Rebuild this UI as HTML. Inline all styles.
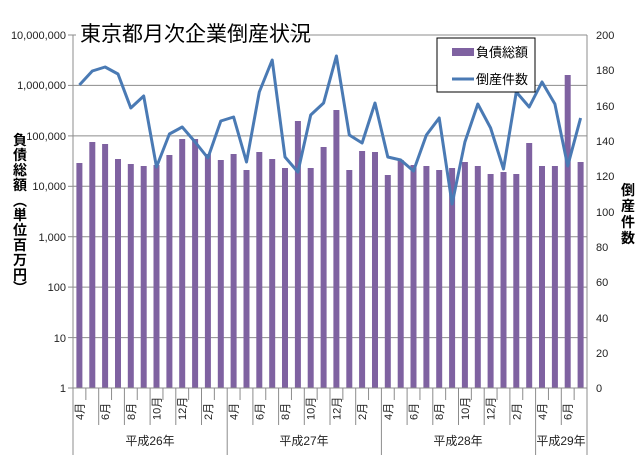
<!DOCTYPE html>
<html><head><meta charset="utf-8"><style>
html,body{margin:0;padding:0;background:#fff}
svg{display:block}
text{font-family:"Liberation Sans","Noto Sans CJK JP",sans-serif}
</style></head><body>
<svg width="640" height="459" viewBox="0 0 640 459" xmlns="http://www.w3.org/2000/svg">
<rect width="640" height="459" fill="#fff"/>
<g stroke="#8c8c8c" stroke-width="1">
<line x1="73" y1="35" x2="587" y2="35"/>
<line x1="73" y1="85.4" x2="587" y2="85.4"/>
<line x1="73" y1="135.9" x2="587" y2="135.9"/>
<line x1="73" y1="186.3" x2="587" y2="186.3"/>
<line x1="73" y1="236.7" x2="587" y2="236.7"/>
<line x1="73" y1="287.1" x2="587" y2="287.1"/>
<line x1="73" y1="337.6" x2="587" y2="337.6"/>
<line x1="73" y1="35" x2="73" y2="388"/>
<line x1="587" y1="35" x2="587" y2="388"/>
<line x1="68" y1="35" x2="73" y2="35"/><line x1="68" y1="85.4" x2="73" y2="85.4"/><line x1="68" y1="135.9" x2="73" y2="135.9"/><line x1="68" y1="186.3" x2="73" y2="186.3"/><line x1="68" y1="236.7" x2="73" y2="236.7"/><line x1="68" y1="287.1" x2="73" y2="287.1"/><line x1="68" y1="337.6" x2="73" y2="337.6"/><line x1="68" y1="388" x2="73" y2="388"/>
</g>
<rect x="76" y="20" width="214" height="26" fill="#fff"/>
<text x="80" y="41" font-size="21" fill="#000">東京都月次企業倒産状況</text>
<g font-size="11" fill="#222" text-anchor="end">
<text x="66" y="39">10,000,000</text><text x="66" y="89">1,000,000</text><text x="66" y="140">100,000</text><text x="66" y="190">10,000</text><text x="66" y="241">1,000</text><text x="66" y="291">100</text><text x="66" y="342">10</text><text x="66" y="392">1</text>
</g>
<g font-size="11" fill="#222">
<text x="596" y="39">200</text><text x="596" y="74">180</text><text x="596" y="110">160</text><text x="596" y="145">140</text><text x="596" y="180">120</text><text x="596" y="216">100</text><text x="596" y="251">80</text><text x="596" y="286">60</text><text x="596" y="322">40</text><text x="596" y="357">20</text><text x="596" y="392">0</text>
</g>
<g font-size="14" fill="#000" font-weight="bold" text-anchor="middle">
<text x="20" y="145">負</text><text x="20" y="160">債</text><text x="20" y="175">総</text><text x="20" y="190">額</text><text x="20" y="206">︵</text><text x="20" y="220">単</text><text x="20" y="235">位</text><text x="20" y="250">百</text><text x="20" y="265">万</text><text x="20" y="280">円</text><text x="20" y="293">︶</text>
<text x="628" y="195">倒</text><text x="628" y="211">産</text><text x="628" y="227">件</text><text x="628" y="243">数</text>
</g>
<g fill="#7f62a1">
<rect x="76.4" y="163" width="6" height="225"/>
<rect x="89.3" y="142" width="6" height="246"/>
<rect x="102.1" y="144" width="6" height="244"/>
<rect x="115.0" y="159" width="6" height="229"/>
<rect x="127.8" y="164" width="6" height="224"/>
<rect x="140.7" y="166" width="6" height="222"/>
<rect x="153.5" y="165" width="6" height="223"/>
<rect x="166.4" y="155" width="6" height="233"/>
<rect x="179.2" y="139" width="6" height="249"/>
<rect x="192.1" y="139" width="6" height="249"/>
<rect x="204.9" y="154" width="6" height="234"/>
<rect x="217.8" y="160" width="6" height="228"/>
<rect x="230.6" y="154" width="6" height="234"/>
<rect x="243.5" y="170" width="6" height="218"/>
<rect x="256.3" y="152" width="6" height="236"/>
<rect x="269.2" y="159" width="6" height="229"/>
<rect x="282.0" y="168" width="6" height="220"/>
<rect x="294.9" y="121" width="6" height="267"/>
<rect x="307.7" y="168" width="6" height="220"/>
<rect x="320.6" y="147" width="6" height="241"/>
<rect x="333.4" y="110" width="6" height="278"/>
<rect x="346.3" y="170" width="6" height="218"/>
<rect x="359.1" y="151" width="6" height="237"/>
<rect x="372.0" y="152" width="6" height="236"/>
<rect x="384.8" y="175" width="6" height="213"/>
<rect x="397.7" y="160" width="6" height="228"/>
<rect x="410.5" y="165" width="6" height="223"/>
<rect x="423.4" y="166" width="6" height="222"/>
<rect x="436.2" y="170" width="6" height="218"/>
<rect x="449.1" y="168" width="6" height="220"/>
<rect x="461.9" y="162" width="6" height="226"/>
<rect x="474.8" y="166" width="6" height="222"/>
<rect x="487.6" y="174" width="6" height="214"/>
<rect x="500.5" y="172" width="6" height="216"/>
<rect x="513.3" y="174" width="6" height="214"/>
<rect x="526.2" y="143" width="6" height="245"/>
<rect x="539.0" y="166" width="6" height="222"/>
<rect x="551.9" y="166" width="6" height="222"/>
<rect x="564.7" y="75" width="6" height="313"/>
<rect x="577.6" y="162" width="6" height="226"/>
</g>
<polyline fill="none" stroke="#4a7ab4" stroke-width="3" stroke-linejoin="round" points="79.4,85 92.3,71 105.1,67 118.0,74 130.8,108 143.7,96 156.5,167 169.4,134 182.2,127 195.1,142 207.9,158 220.8,121 233.6,117 246.5,162 259.3,92 272.2,60 285.0,157 297.9,172 310.7,115 323.6,103 336.4,56 349.3,135 362.1,143 375.0,103 387.8,157 400.7,160 413.5,171 426.4,135 439.2,118 452.1,204 464.9,142 477.8,104 490.6,128 503.5,169 516.3,92 529.2,107 542.0,82 554.9,104 567.7,166 580.6,118"/>
<g stroke="#8c8c8c" stroke-width="1">
<line x1="73" y1="388" x2="587" y2="388"/>
<line x1="73" y1="388" x2="73" y2="455"/>
<line x1="85.85" y1="388" x2="85.85" y2="400"/><line x1="98.7" y1="388" x2="98.7" y2="425"/><line x1="111.55" y1="388" x2="111.55" y2="400"/><line x1="124.4" y1="388" x2="124.4" y2="425"/><line x1="137.25" y1="388" x2="137.25" y2="400"/><line x1="150.1" y1="388" x2="150.1" y2="425"/><line x1="162.95" y1="388" x2="162.95" y2="400"/><line x1="175.8" y1="388" x2="175.8" y2="425"/><line x1="188.65" y1="388" x2="188.65" y2="400"/><line x1="201.5" y1="388" x2="201.5" y2="425"/><line x1="214.35" y1="388" x2="214.35" y2="400"/>
<line x1="227.2" y1="388" x2="227.2" y2="455"/>
<line x1="240.05" y1="388" x2="240.05" y2="400"/><line x1="252.9" y1="388" x2="252.9" y2="425"/><line x1="265.75" y1="388" x2="265.75" y2="400"/><line x1="278.6" y1="388" x2="278.6" y2="425"/><line x1="291.45" y1="388" x2="291.45" y2="400"/><line x1="304.3" y1="388" x2="304.3" y2="425"/><line x1="317.15" y1="388" x2="317.15" y2="400"/><line x1="330" y1="388" x2="330" y2="425"/><line x1="342.85" y1="388" x2="342.85" y2="400"/><line x1="355.7" y1="388" x2="355.7" y2="425"/><line x1="368.55" y1="388" x2="368.55" y2="400"/>
<line x1="381.4" y1="388" x2="381.4" y2="455"/>
<line x1="394.25" y1="388" x2="394.25" y2="400"/><line x1="407.1" y1="388" x2="407.1" y2="425"/><line x1="419.95" y1="388" x2="419.95" y2="400"/><line x1="432.8" y1="388" x2="432.8" y2="425"/><line x1="445.65" y1="388" x2="445.65" y2="400"/><line x1="458.5" y1="388" x2="458.5" y2="425"/><line x1="471.35" y1="388" x2="471.35" y2="400"/><line x1="484.2" y1="388" x2="484.2" y2="425"/><line x1="497.05" y1="388" x2="497.05" y2="400"/><line x1="509.9" y1="388" x2="509.9" y2="425"/><line x1="522.75" y1="388" x2="522.75" y2="400"/>
<line x1="535.6" y1="388" x2="535.6" y2="455"/>
<line x1="548.45" y1="388" x2="548.45" y2="400"/><line x1="561.3" y1="388" x2="561.3" y2="425"/><line x1="574.15" y1="388" x2="574.15" y2="400"/>
<line x1="587" y1="388" x2="587" y2="455"/>
</g>
<g font-size="11" fill="#222">
<text transform="translate(83.4,420) rotate(-90)">4月</text>
<text transform="translate(109.1,420) rotate(-90)">6月</text>
<text transform="translate(134.8,420) rotate(-90)">8月</text>
<text transform="translate(160.5,420) rotate(-90)">10月</text>
<text transform="translate(186.2,420) rotate(-90)">12月</text>
<text transform="translate(211.9,420) rotate(-90)">2月</text>
<text transform="translate(237.6,420) rotate(-90)">4月</text>
<text transform="translate(263.3,420) rotate(-90)">6月</text>
<text transform="translate(289.0,420) rotate(-90)">8月</text>
<text transform="translate(314.7,420) rotate(-90)">10月</text>
<text transform="translate(340.4,420) rotate(-90)">12月</text>
<text transform="translate(366.1,420) rotate(-90)">2月</text>
<text transform="translate(391.8,420) rotate(-90)">4月</text>
<text transform="translate(417.5,420) rotate(-90)">6月</text>
<text transform="translate(443.2,420) rotate(-90)">8月</text>
<text transform="translate(468.9,420) rotate(-90)">10月</text>
<text transform="translate(494.6,420) rotate(-90)">12月</text>
<text transform="translate(520.3,420) rotate(-90)">2月</text>
<text transform="translate(546.0,420) rotate(-90)">4月</text>
<text transform="translate(571.7,420) rotate(-90)">6月</text>
</g>
<g font-size="12" fill="#222" text-anchor="middle">
<text x="150" y="445">平成26年</text><text x="304" y="445">平成27年</text><text x="458" y="445">平成28年</text><text x="561" y="445">平成29年</text>
</g>
<rect x="437" y="38" width="98" height="54" fill="#fff" stroke="#000" stroke-width="1"/>
<rect x="452" y="48" width="22" height="8" fill="#7f62a1"/>
<text x="476" y="57" font-size="13" fill="#000">負債総額</text>
<line x1="452" y1="79" x2="474" y2="79" stroke="#4a7ab4" stroke-width="3"/>
<text x="476" y="84" font-size="13" fill="#000">倒産件数</text>
</svg>
</body></html>
